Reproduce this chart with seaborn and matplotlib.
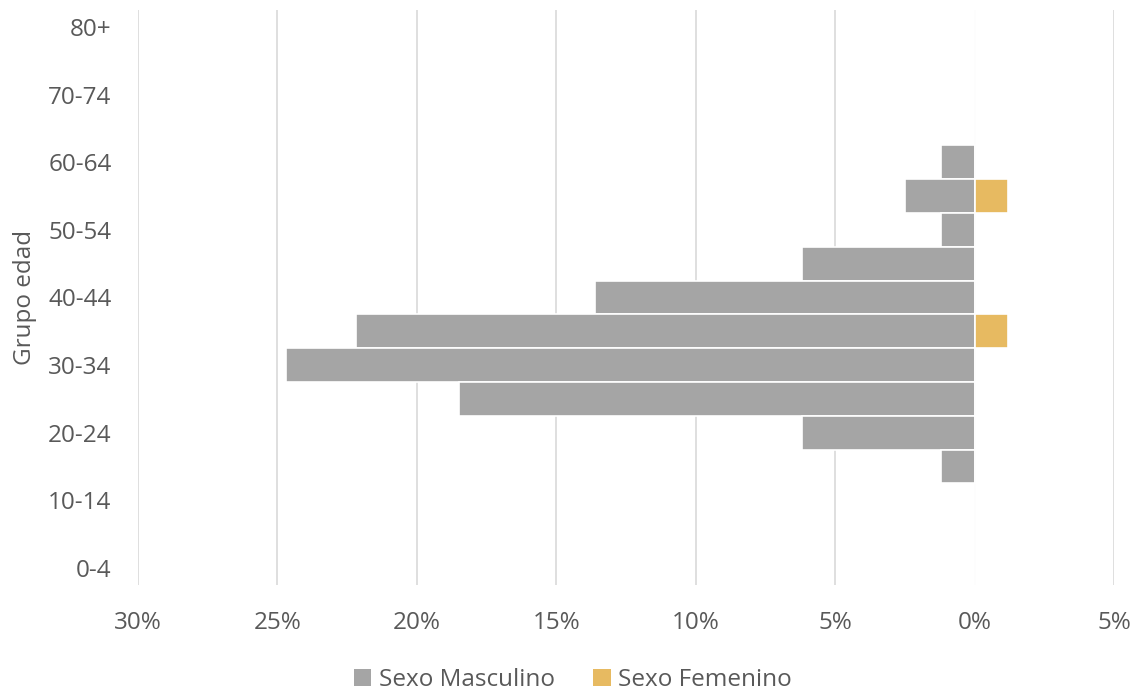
import numpy as np
import pandas as pd
import matplotlib
matplotlib.use('Agg')
import matplotlib.pyplot as plt
from matplotlib.patches import Patch
from matplotlib.ticker import FuncFormatter
import seaborn as sns

sns.set_style('white')
plt.rcParams['font.family'] = ['Open Sans', 'DejaVu Sans']

# Age groups, bottom to top
groups = ['0-4', '5-9', '10-14', '15-19', '20-24', '25-29', '30-34', '35-39',
          '40-44', '45-49', '50-54', '55-59', '60-64', '65-69', '70-74', '75-79', '80+']
# Share of total (%)
masculino = [0, 0, 0, 1.2, 6.2, 18.5, 24.7, 22.2, 13.6, 6.2, 1.2, 2.5, 1.2, 0, 0, 0, 0]
femenino = [0, 0, 0, 0, 0, 0, 0, 1.2, 0, 0, 0, 1.2, 0, 0, 0, 0, 0]
xticks = [-30, -25, -20, -15, -10, -5, 0, 5]

colors = {'Sexo Masculino': '#A5A5A5', 'Sexo Femenino': '#E7BA61'}
text_color = '#595959'
fs = 17.5

df = pd.concat([
    pd.DataFrame({'grupo': groups, 'valor': [-v for v in masculino], 'sexo': 'Sexo Masculino'}),
    pd.DataFrame({'grupo': groups, 'valor': femenino, 'sexo': 'Sexo Femenino'}),
])

fig = plt.figure(figsize=(11.39, 6.93), dpi=100)
ax = fig.add_axes([0.1212, 0.156, 0.8568, 0.8296])

sns.barplot(data=df, x='valor', y='grupo', hue='sexo', order=groups[::-1],
            palette=colors, saturation=1, dodge=False, width=1.0, orient='h',
            edgecolor='white', linewidth=1.2, ax=ax, legend=False)

ax.set_xlim(-30, 5)
ax.set_ylim(16.5, -0.5)
ax.set_xticks(xticks)
ax.xaxis.set_major_formatter(FuncFormatter(lambda v, p: f'{abs(v):.0f}%'))
ax.grid(axis='x', color='#D9D9D9', linewidth=1.2)
ax.set_axisbelow(True)
for s in ax.spines.values():
    s.set_visible(False)

order = groups[::-1]
ytick_pos = [i for i, g in enumerate(order) if groups.index(g) % 2 == 0]
ax.set_yticks(ytick_pos)
ax.set_yticklabels([order[i] for i in ytick_pos])

ax.tick_params(axis='x', length=0, pad=19, labelsize=fs, labelcolor=text_color)
ax.tick_params(axis='y', length=0, pad=19, labelsize=fs, labelcolor=text_color)
ax.set_xlabel('')
ax.set_ylabel('Grupo edad', fontsize=fs, color=text_color, labelpad=8)

handles = [Patch(facecolor=colors[k], edgecolor='none', label=k) for k in colors]
fig.legend(handles=handles, loc='center', bbox_to_anchor=(0.503, 0.019), ncol=2,
           frameon=False, fontsize=fs, labelcolor=text_color,
           handlelength=0.7, handleheight=0.7, handletextpad=0.3, columnspacing=1.6)

fig.savefig('out.png', dpi=100)
